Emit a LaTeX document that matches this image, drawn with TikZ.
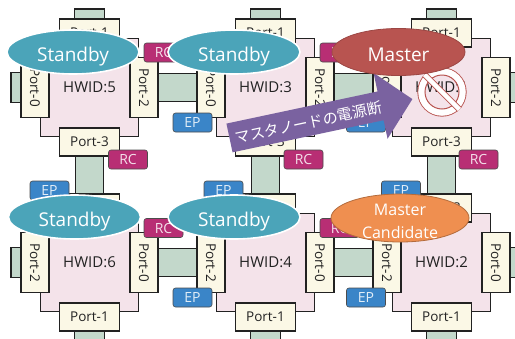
\documentclass[tikz,border=0pt]{standalone}
\usepackage{fontspec}
\setmainfont{Open Sans}
\newfontfamily\cjkfont{Noto Sans CJK JP}
\usepackage{xcolor}
\usetikzlibrary{shapes.geometric,shapes.arrows,backgrounds}
\definecolor{bodypink}{HTML}{F4E3EA}
\definecolor{portcream}{HTML}{FBF8E6}
\definecolor{linkgreen}{HTML}{C3D8CB}
\definecolor{rcpink}{HTML}{B82E74}
\definecolor{epblue}{HTML}{3A85C8}
\definecolor{standbyteal}{HTML}{4BA4B9}
\definecolor{masterred}{HTML}{B85450}
\definecolor{candorange}{HTML}{EF8F50}
\definecolor{cutpurple}{HTML}{7A62A0}
\definecolor{edgeblack}{HTML}{222222}

\begin{document}
\begin{tikzpicture}[
      x=1pt, y=-1pt,
      body/.style = {rectangle, draw=edgeblack, line width=1.2pt, fill=bodypink, minimum width=98pt, minimum height=98pt, inner sep=0pt, text=edgeblack, font=\fontsize{15}{17}\selectfont},
      hport/.style = {rectangle, draw=edgeblack, line width=1.2pt, fill=portcream, minimum width=60pt, minimum height=28pt, inner sep=0pt, text=edgeblack, font=\fontsize{13.5}{15}\selectfont},
      vport/.style = {hport, rotate=-90},
      stub/.style = {rectangle, draw=edgeblack, line width=1.2pt, fill=linkgreen, minimum width=#1, inner sep=0pt},
      hstub/.style = {stub=24pt, minimum height=30pt},
      vstub/.style = {stub=30pt, minimum height=24pt},
      link/.style = {edgeblack, line width=1.2pt, double=linkgreen, double distance=27.5pt},
      tag/.style = {rectangle, rounded corners=2.5pt, draw=black!70, line width=0.6pt, minimum width=39pt, minimum height=19pt, inner sep=0pt, font=\fontsize{14}{15}\selectfont},
      rc/.style = {tag, fill=rcpink, text=white!85!rcpink},
      ep/.style = {tag, fill=epblue, text=white!85!epblue},
      role/.style = {ellipse, inner sep=0pt, align=center, text=white},
      standby/.style = {role, draw=white, line width=1.6pt, fill=standbyteal, minimum width=132pt, minimum height=44pt, text height=18pt, text depth=0pt, font=\fontsize{19}{22}\selectfont},
      master/.style = {role, draw=masterred!85!black, line width=0.8pt, fill=masterred, minimum width=133pt, minimum height=47pt, text height=18pt, text depth=0pt, font=\fontsize{19}{22}\selectfont},
      candidate/.style = {role, draw=candorange!75!black, line width=0.8pt, fill=candorange, minimum width=138pt, minimum height=48pt},
      candtext/.style = {align=center, text=white, yshift=-3pt, font=\fontsize{16}{23}\selectfont},
      cut/.style = {single arrow, single arrow head extend=19pt, single arrow tip angle=92, fill=cutpurple, text=white, inner xsep=2pt, inner ysep=1.5pt, text height=20pt, text depth=6pt, minimum height=187pt, font=\cjkfont\fontsize{15}{16}\selectfont},
      banring/.style = {circle, draw=masterred, line width=1.3pt, minimum size=48pt, inner sep=0pt}
    ]
    \path[use as bounding box, clip] (0,0) rectangle (515,338);
    % switches
    \foreach \id/\x/\y/\pl/\pr/\pt/\pb in {5/89.5/87.5/Port-0/Port-2/Port-1/Port-3, 3/265.5/87.5/Port-0/Port-2/Port-1/Port-3, 1/441.5/87.5/Port-0/Port-2/Port-1/Port-3, 6/89.5/262.5/Port-2/Port-0/Port-3/Port-1, 4/265.5/262.5/Port-2/Port-0/Port-3/Port-1, 2/441.5/262.5/Port-2/Port-0/Port-3/Port-1} {
      \node[body] (hw\id) at (\x,\y) {HWID:\id};
      \node[hport] (pt\id) at (\x,\y-54.5) {\pt};
      \node[hport] (pb\id) at (\x,\y+54.5) {\pb};
      \node[vport] (pl\id) at (\x-54.5,\y) {\pl};
      \node[vport] (pr\id) at (\x+54.5,\y) {\pr};
    }
    % cables
    \begin{scope}[on background layer]
      \foreach \a/\b in {r5/l3, r3/l1, r6/l4, r4/l2, b5/t6, b3/t4, b1/t2}
        \draw[link] (p\a) -- (p\b);
      \foreach \id/\x in {5/89.5, 3/265.5, 1/441.5}
        \node[vstub] (st\id) at (\x,21) {};
      \foreach \id/\x in {6/89.5, 4/265.5, 2/441.5}
        \node[vstub] (sb\id) at (\x,340) {};
      \foreach \id/\y in {5/87.5, 6/262.5}
        \node[hstub] (sl\id) at (23,\y) {};
      \foreach \id/\y in {1/87.5, 2/262.5}
        \node[hstub] (sr\id) at (518,\y) {};
    \end{scope}
    % controllers
    \foreach \x/\y [count=\i] in {163.5/52.5, 339.5/52.5, 163.5/228, 339.5/228, 128/159.5, 303.5/159.5, 478.5/159.5}
      \node[rc] (rc\i) at (\x,\y) {RC};
    \foreach \x/\y [count=\i] in {192.5/122.5, 366/122.5, 192.5/297.5, 366/297.5, 49.5/190.5, 223.5/190.5, 401/190.5}
      \node[ep] (ep\i) at (\x,\y) {EP};
    % power cut
    \node[banring] (ban) at (442,92) {};
    \draw[white, line width=6.5pt] (ban.center) circle (20.5);
    \draw[masterred, line width=1pt] (ban.center) circle (17);
    \draw[masterred, line width=0.8pt, double=white, double distance=4.5pt] (ban.135) -- (ban.-45);
    \node[cut, rotate=12] (power) at (314,120) {マスタノードの電源断\hspace*{12pt}};
    % roles
    \node[standby] (stby5) at (73,52) {Standby};
    \node[standby] (stby3) at (234,52) {Standby};
    \node[standby] (stby6) at (74.5,217) {Standby};
    \node[standby] (stby4) at (234,217) {Standby};
    \node[master] (mst) at (398.5,52) {Master};
    \node[candidate, label={[candtext]center:Master\\Candidate}] (cand) at (400,218) {};
  \end{tikzpicture}
\end{document}
